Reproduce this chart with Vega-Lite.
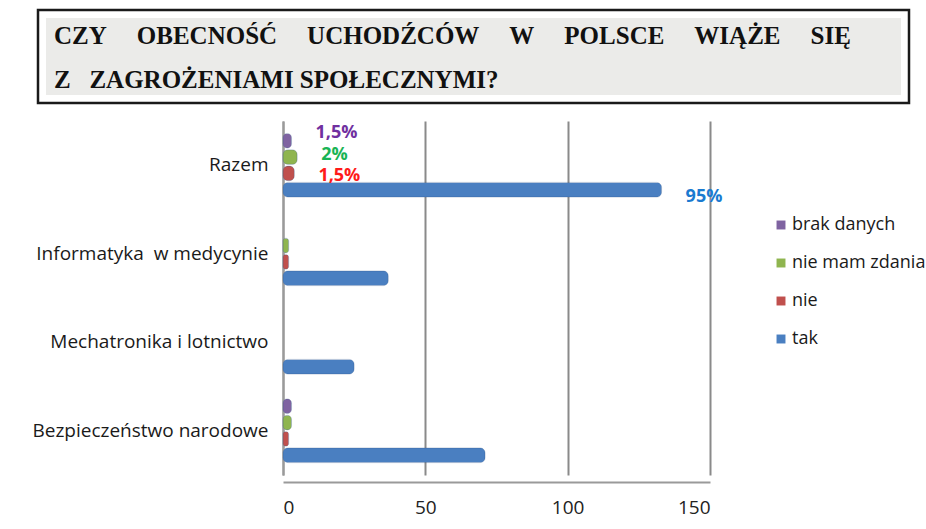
{
  "$schema": "https://vega.github.io/schema/vega-lite/v6.json",
  "background": "white",
  "padding": {"left": 30, "top": 2, "right": 0, "bottom": 0},
  "spacing": 10,
  "config": {"font": "Open Sans", "view": {"stroke": null}},
  "vconcat": [
    {
      "width": 871,
      "height": 93,
      "data": {"values": [{}]},
      "layer": [
        {"mark": {"type": "rect", "fill": "#ebebe9", "stroke": "white", "strokeWidth": 16}, "encoding": {}},
        {"mark": {"type": "rect", "fill": null, "stroke": "#1a1a1a", "strokeWidth": 2.5}, "encoding": {}}
      ],
      "title": {
        "text": [
          "CZY\u00a0\u00a0\u00a0\u00a0\u2009OBECNOŚĆ\u00a0\u00a0\u00a0\u00a0\u2009UCHODŹCÓW\u00a0\u00a0\u00a0\u00a0\u2009W\u00a0\u00a0\u00a0\u00a0\u2009POLSCE\u00a0\u00a0\u00a0\u00a0\u2009WIĄŻE\u00a0\u00a0\u00a0\u00a0\u2009SIĘ",
          "Z\u00a0\u00a0\u00a0ZAGROŻENIAMI SPOŁECZNYMI?"
        ],
        "anchor": "start",
        "frame": "group",
        "orient": "top",
        "offset": -91,
        "dx": 16,
        "font": "Liberation Serif",
        "fontSize": 25,
        "fontWeight": "bold",
        "color": "#111111",
        "lineHeight": 44
      }
    },
    {
      "width": 672,
      "height": 354,
      "data": {
        "values": [
          {"category": "Razem", "series": "tak", "value": 133, "label": "95%"},
          {"category": "Razem", "series": "nie", "value": 4, "label": "1,5%"},
          {"category": "Razem", "series": "nie mam zdania", "value": 5, "label": "2%"},
          {"category": "Razem", "series": "brak danych", "value": 3, "label": "1,5%"},
          {"category": "Informatyka\u00a0 w medycynie", "series": "tak", "value": 37},
          {"category": "Informatyka\u00a0 w medycynie", "series": "nie", "value": 2},
          {"category": "Informatyka\u00a0 w medycynie", "series": "nie mam zdania", "value": 2},
          {"category": "Mechatronika i lotnictwo", "series": "tak", "value": 25},
          {"category": "Bezpieczeństwo narodowe", "series": "tak", "value": 71},
          {"category": "Bezpieczeństwo narodowe", "series": "nie", "value": 2},
          {"category": "Bezpieczeństwo narodowe", "series": "nie mam zdania", "value": 3},
          {"category": "Bezpieczeństwo narodowe", "series": "brak danych", "value": 3}
        ]
      },
      "encoding": {
        "y": {
          "field": "category",
          "type": "nominal",
          "sort": ["Razem", "Informatyka\u00a0 w medycynie", "Mechatronika i lotnictwo", "Bezpieczeństwo narodowe"],
          "title": null,
          "scale": {"paddingInner": 0.28, "paddingOuter": 0.14},
          "axis": {
            "offset": -245,
            "domainColor": "#9a9a9a",
            "domainWidth": 2,
            "ticks": false,
            "labelPadding": 15,
            "labelFontSize": 19,
            "labelLimit": 400,
            "labelColor": "#1a1a1a",
            "labelFont": "Open Sans"
          }
        },
        "x": {
          "field": "value",
          "type": "quantitative",
          "scale": {"domain": [0, 150], "range": [245, 672]},
          "axis": {
            "values": [0, 50, 100, 150],
            "grid": true,
            "gridColor": "#8a8a8a",
            "gridWidth": 2,
            "domainColor": "#9a9a9a",
            "domainWidth": 2,
            "ticks": false,
            "offset": 7,
            "labelFontSize": 19,
            "labelColor": "#222222",
            "labelPadding": 16,
            "title": null
          }
        }
      },
      "layer": [
        {
          "mark": {"type": "bar", "cornerRadius": 5, "stroke": "#3a5f8f", "strokeOpacity": 0.25},
          "encoding": {
            "yOffset": {
              "field": "series",
              "type": "nominal",
              "sort": ["brak danych", "nie mam zdania", "nie", "tak"],
              "scale": {"paddingInner": 0.1}
            },
            "color": {
              "field": "series",
              "type": "nominal",
              "scale": {
                "domain": ["brak danych", "nie mam zdania", "nie", "tak"],
                "range": ["#7f63a1", "#8fb54f", "#c0504d", "#4a7fc1"]
              },
              "legend": {
                "title": null,
                "orient": "none",
                "legendX": 734,
                "legendY": 95,
                "symbolType": "square",
                "symbolSize": 80,
                "symbolStrokeWidth": 0,
                "labelFontSize": 18,
                "labelFont": "Open Sans",
                "labelColor": "#1a1a1a",
                "labelOffset": 2,
                "rowPadding": 20
              }
            }
          }
        },
        {
          "transform": [{"filter": "isValid(datum.label)"}],
          "mark": {"type": "text", "align": "left", "dx": 24, "fontSize": 18, "fontWeight": "bold", "font": "Open Sans"},
          "encoding": {
            "yOffset": {
              "field": "series",
              "type": "nominal",
              "sort": ["brak danych", "nie mam zdania", "nie", "tak"],
              "scale": {"paddingInner": 0, "paddingOuter": -0.5}
            },
            "text": {"field": "label"},
            "color": {
              "field": "series",
              "type": "nominal",
              "scale": {
                "domain": ["brak danych", "nie mam zdania", "nie", "tak"],
                "range": ["#7030a0", "#19b455", "#ff1a1a", "#1a7ad0"]
              },
              "legend": null
            }
          }
        }
      ],
      "resolve": {"scale": {"color": "independent", "yOffset": "independent"}}
    }
  ]
}
